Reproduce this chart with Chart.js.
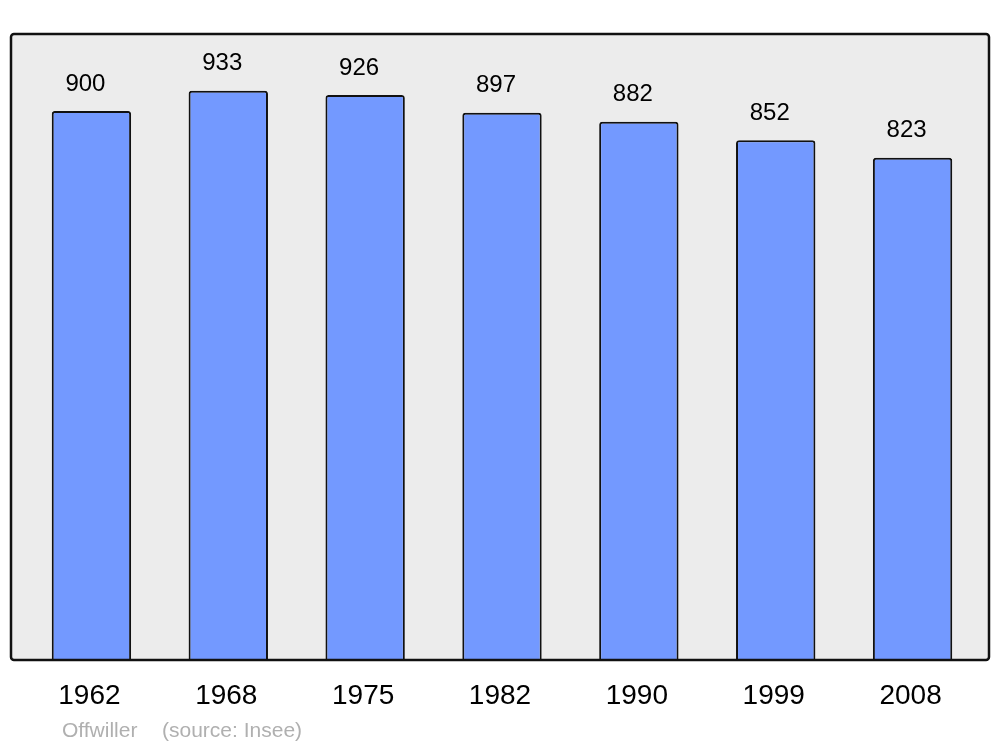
<!DOCTYPE html>
<html lang="fr">
<head>
    <meta charset="UTF-8">
    <title>Offwiller population</title>
    <style>
        html, body { margin: 0; padding: 0; background: #ffffff; }
        #wrap { width: 1000px; height: 747px; }
    </style>
</head>
<body>
    <div id="wrap"><canvas id="myChart" width="1000" height="747"></canvas></div>

    <script src="https://cdn.jsdelivr.net/npm/chart.js"></script>
    <script>
        const years = ['1962', '1968', '1975', '1982', '1990', '1999', '2008'];
        const population = [900, 933, 926, 897, 882, 852, 823];
        const yMax = 1026;
        const place = 'Offwiller';
        const source = '(source: Insee)';

        const font = '"Liberation Sans", Arial, sans-serif';

        // grey panel behind bars, frame on top, labels around
        const decor = {
            id: 'decor',
            beforeDatasetsDraw(chart) {
                const ctx = chart.ctx;
                ctx.save();
                ctx.fillStyle = '#ececec';
                ctx.beginPath();
                ctx.roundRect(11, 34, 978, 626, 3);
                ctx.fill();
                ctx.restore();
            },
            afterDatasetsDraw(chart) {
                const ctx = chart.ctx;
                const x = chart.scales.x;
                const meta = chart.getDatasetMeta(0);
                ctx.save();
                ctx.strokeStyle = '#111111';
                ctx.lineWidth = 2.5;
                ctx.beginPath();
                ctx.roundRect(11, 34, 978, 626, 3);
                ctx.stroke();

                ctx.textAlign = 'center';
                ctx.textBaseline = 'middle';
                ctx.fillStyle = '#000000';
                ctx.font = '24px ' + font;
                meta.data.forEach((bar, i) => {
                    ctx.fillText(String(population[i]), bar.x - 6, bar.y - 27);
                });

                ctx.font = '28px ' + font;
                years.forEach((y, i) => {
                    ctx.fillText(y, x.getPixelForValue(i) - 2, 696);
                });

                ctx.textAlign = 'left';
                ctx.fillStyle = '#b0b0b0';
                ctx.font = '21px ' + font;
                ctx.fillText(place, 62, 731);
                ctx.fillText(source, 162, 731);
                ctx.restore();
            }
        };

        new Chart(document.getElementById('myChart'), {
            type: 'bar',
            data: {
                labels: years,
                datasets: [{
                    data: population,
                    backgroundColor: '#7399ff',
                    borderColor: '#111111',
                    borderWidth: 2,
                    borderSkipped: 'bottom',
                    borderRadius: { topLeft: 3, topRight: 3 },
                    barPercentage: 0.58,
                    categoryPercentage: 1
                }]
            },
            options: {
                responsive: false,
                animation: false,
                layout: { padding: { left: 23, right: 19, top: 34, bottom: 87 } },
                plugins: { legend: { display: false }, tooltip: { enabled: false } },
                scales: {
                    x: { display: false },
                    y: { display: false, min: 0, max: yMax }
                }
            },
            plugins: [decor]
        });
    </script>
</body>
</html>
